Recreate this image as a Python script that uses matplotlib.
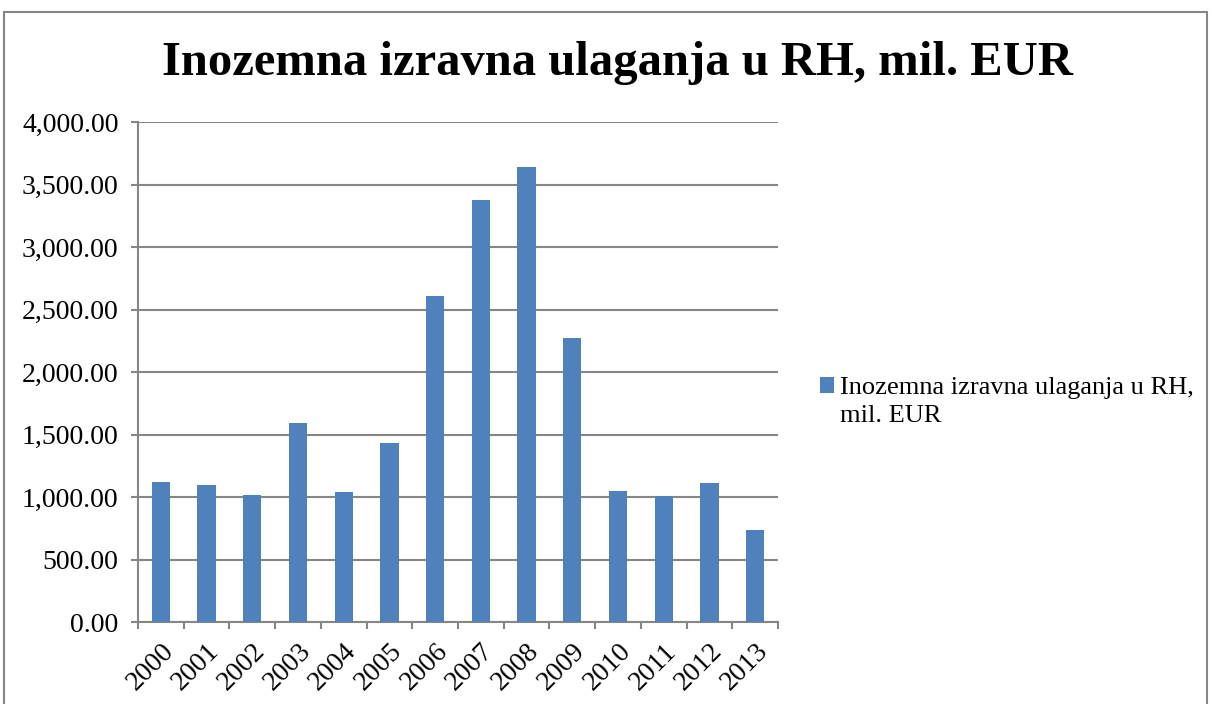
import numpy as np
import matplotlib
matplotlib.use("Agg")
import matplotlib.pyplot as plt
from matplotlib.patches import Rectangle
from matplotlib.ticker import FuncFormatter, FixedLocator

years = ['2000', '2001', '2002', '2003', '2004', '2005', '2006',
         '2007', '2008', '2009', '2010', '2011', '2012', '2013']
fdi = [1121, 1097, 1014, 1591, 1044, 1431, 2612,
       3375, 3639, 2275, 1046, 1009, 1110, 734]
legend_lines = ['Inozemna izravna ulaganja u RH,', 'mil. EUR']
title = 'Inozemna izravna ulaganja u RH, mil. EUR'

plt.rcParams['font.family'] = ['Liberation Serif', 'DejaVu Serif']

fig = plt.figure(figsize=(12.12, 7.04), dpi=100)
ax = fig.add_axes([138/1212, 1 - 622/704, 640/1212, 500/704])

x = np.arange(len(years))
bars = ax.bar(x, fdi, width=0.4, color='#4F81BD', zorder=3)

ax.set_xlim(-0.5, len(years) - 0.5)
ax.set_ylim(0, 4000)
ax.set_yticks(np.arange(0, 4001, 500))
ax.yaxis.set_major_formatter(FuncFormatter(lambda v, p: f'{v:,.2f}'))
ax.grid(axis='y', color='#868686', linewidth=1.5, zorder=0)

ax.set_xticks(x)
ax.set_xticklabels(years, rotation=45, ha='right', rotation_mode='anchor')
ax.xaxis.set_minor_locator(FixedLocator(np.arange(-0.5, len(years), 1)))
ax.tick_params(axis='x', which='major', length=0, labelsize=20, pad=12)
ax.tick_params(axis='x', which='minor', length=5, width=1.5, color='#868686')
ax.tick_params(axis='y', length=5, width=1.5, color='#868686', labelsize=20, pad=9)

for side in ['top', 'right']:
    ax.spines[side].set_visible(False)
for side in ['left', 'bottom']:
    ax.spines[side].set_color('#868686')
    ax.spines[side].set_linewidth(1.5)

fig.text(618/1212, 1 - 63/704, title, ha='center', va='center',
         fontsize=35, fontweight='bold')

blank = Rectangle((0, 0), 1, 1, fill=False, edgecolor='none')
fig.legend(handles=[bars, blank], labels=legend_lines, loc='upper left',
           bbox_to_anchor=(820/1212, 1 - 377/704), frameon=False,
           fontsize=19, handlelength=0.53, handleheight=0.53,
           handletextpad=0.23, borderpad=0, borderaxespad=0,
           labelspacing=0.2)

fig.patches.append(Rectangle((4/1212, -0.05), 1203/1212, 1 - 12/704 + 0.05,
                             transform=fig.transFigure, fill=False,
                             edgecolor='#868686', linewidth=1.5))

fig.savefig('out.png', dpi=100)
